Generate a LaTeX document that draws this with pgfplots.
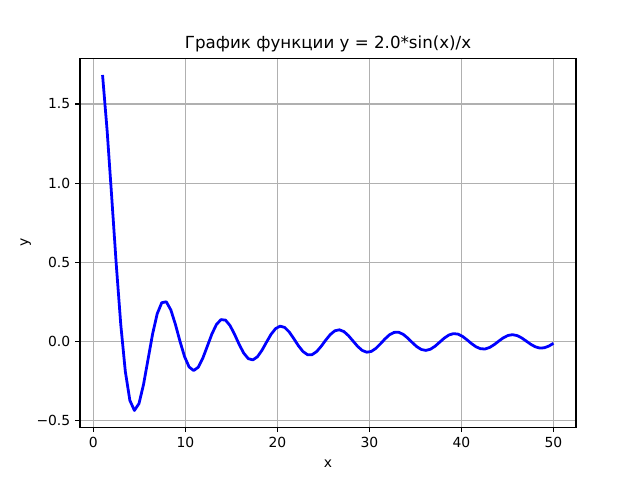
\documentclass[border=0pt]{standalone}
\usepackage{pgfplots}
\pgfplotsset{compat=1.18}
\usepackage{fontspec}
\setmainfont{DejaVu Sans}
\definecolor{gridgray}{HTML}{B0B0B0}
\begin{document}
\begin{tikzpicture}
\path[use as bounding box] (0,0) rectangle (460.8pt,345.6pt);
\begin{axis}[
  at={(57.6pt,38.016pt)}, anchor=south west,
  scale only axis, width=357.12pt, height=265.68pt,
  xmin=-1.45, xmax=52.45, ymin=-0.5400, ymax=1.7888,
  xtick={0,10,20,30,40,50},
  xticklabels={0,10,20,30,40,50},
  ytick={-0.5,0,0.5,1.0,1.5},
  yticklabels={−0.5,0.0,0.5,1.0,1.5},
  tick align=outside, major tick length=3.5pt,
  tick style={black, line width=0.8pt},
  axis line style={line width=0.8pt},
  xtick pos=bottom, ytick pos=left,
  grid=major, major grid style={gridgray, line width=0.8pt},
  ticklabel style={font=\fontsize{10}{12}\selectfont},
  label style={font=\fontsize{10}{12}\selectfont},
  xlabel={x}, ylabel={y},
  xlabel style={yshift=-2pt},
  ylabel style={yshift=-3pt},
  title={График функции y = 2.0*sin(x)/x},
  title style={font=\fontsize{12}{14}\selectfont, yshift=-5pt},
]
\addplot[blue, line width=2pt, line join=round] table {
x y
1.0000 1.6829
1.4949 1.3340
1.9899 0.9181
2.4848 0.4915
2.9798 0.1081
3.4747 -0.1882
3.9697 -0.3711
4.4646 -0.4343
4.9596 -0.3910
5.4545 -0.2702
5.9495 -0.1101
6.4444 0.0498
6.9394 0.1758
7.4343 0.2457
7.9293 0.2515
8.4242 0.1998
8.9192 0.1086
9.4141 0.0023
9.9091 -0.0940
10.4040 -0.1596
10.8990 -0.1826
11.3939 -0.1618
11.8889 -0.1054
12.3838 -0.0293
12.8788 0.0477
13.3737 0.1080
13.8687 0.1390
14.3636 0.1357
14.8586 0.1011
15.3535 0.0452
15.8485 -0.0177
16.3434 -0.0726
16.8384 -0.1074
17.3333 -0.1152
17.8283 -0.0957
18.3232 -0.0548
18.8182 -0.0033
19.3131 0.0463
19.8081 0.0826
20.3030 0.0978
20.7980 0.0894
21.2929 0.0604
21.7879 0.0185
22.2828 -0.0258
22.7778 -0.0622
23.2727 -0.0824
23.7677 -0.0824
24.2626 -0.0630
24.7576 -0.0296
25.2525 0.0095
25.7475 0.0448
26.2424 0.0683
26.7374 0.0748
27.2323 0.0634
27.7273 0.0375
28.2222 0.0037
28.7172 -0.0298
29.2121 -0.0552
29.7071 -0.0667
30.2020 -0.0620
30.6970 -0.0429
31.1919 -0.0142
31.6869 0.0169
32.1818 0.0431
32.6768 0.0583
33.1717 0.0593
33.6667 0.0462
34.1616 0.0226
34.6566 -0.0057
35.1515 -0.0318
35.6465 -0.0497
36.1414 -0.0553
36.6364 -0.0477
37.1313 -0.0290
37.6263 -0.0039
38.1212 0.0215
38.6162 0.0411
39.1111 0.0505
39.6061 0.0477
40.1010 0.0336
40.5960 0.0119
41.0909 -0.0121
41.5859 -0.0326
42.0808 -0.0450
42.5758 -0.0463
43.0707 -0.0367
43.5657 -0.0186
44.0606 0.0036
44.5556 0.0243
45.0505 0.0389
45.5455 0.0439
46.0404 0.0384
46.5354 0.0239
47.0303 0.0040
47.5253 -0.0164
48.0202 -0.0325
48.5152 -0.0406
49.0101 -0.0388
49.5051 -0.0278
50.0000 -0.0105
};
\end{axis}
\end{tikzpicture}
\end{document}
